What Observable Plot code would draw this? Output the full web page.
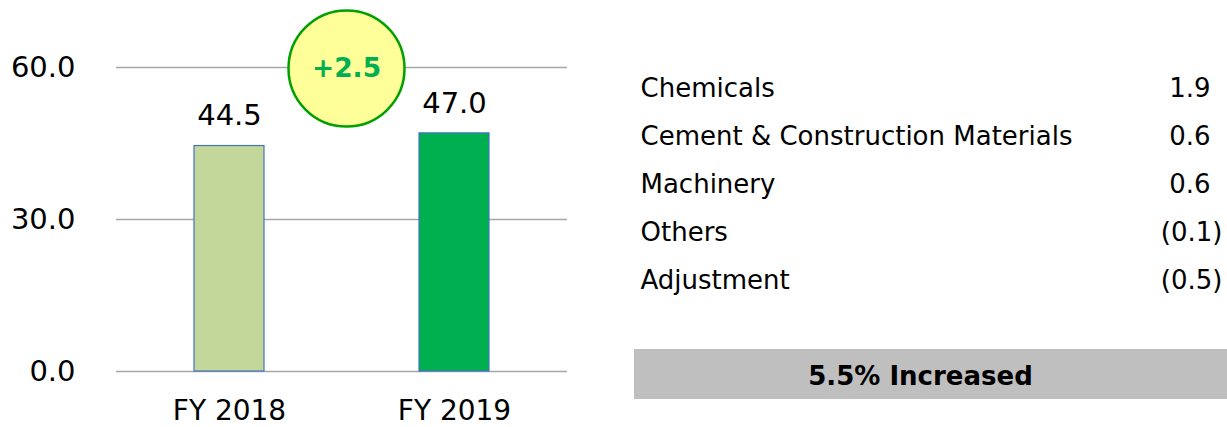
<!DOCTYPE html>
<html><head><meta charset="utf-8">
<script src="https://cdn.jsdelivr.net/npm/d3@7"></script>
<script src="https://cdn.jsdelivr.net/npm/@observablehq/plot@0.6"></script>
<style>
body{margin:0;background:#fff;}
#wrap{display:flex;width:1227px;height:427px;}
#wrap svg{display:block;overflow:visible;}
</style></head><body><div id="wrap"></div>
<script>
const years = ["FY 2018", "FY 2019"];
const profits = [44.5, 47.0];
const barColors = ["#C4D79B", "#00B050"];
const yTicks = [0, 30, 60];
const segments = ["Chemicals", "Cement & Construction Materials", "Machinery", "Others", "Adjustment"];
const changes = [1.9, 0.6, 0.6, -0.1, -0.5];
const summary = "5.5% Increased";
const delta = 2.5;

const font = {fontFamily: "'DejaVu Sans', Verdana, sans-serif", fontSize: "26px", color: "#000", background: "transparent", overflow: "visible"};

const bars = years.map((year, i) => ({year, value: profits[i], color: barColors[i]}));

const left = Plot.plot({
  width: 600, height: 427,
  marginLeft: 116, marginRight: 33, marginTop: 67, marginBottom: 56,
  style: font,
  color: {type: "identity"},
  x: {domain: years, paddingInner: 0.69, paddingOuter: 0.345, label: null},
  y: {domain: [0, 60], label: null},
  marks: [
    Plot.ruleY(yTicks, {stroke: "#A6A6A6", strokeWidth: 1.5}),
    Plot.barY(bars, {x: "year", y: "value", fill: "color", stroke: "#4472C4", strokeWidth: 1.2}),
    Plot.text(bars, {x: "year", y: "value", text: d => d.value.toFixed(1), dy: -30, fontSize: 29, fill: "#000"}),
    Plot.axisY(yTicks, {tickSize: 0, tickPadding: 41, tickFormat: d => d.toFixed(1), fontSize: 29, label: null}),
    Plot.axisX({tickSize: 0, tickPadding: 29, fontSize: 28, label: null}),
    Plot.dot([delta], {x: () => years[0], y: () => 60, dx: 117, dy: 1, r: 58, fill: "#FFFF99", stroke: "#00A000", strokeWidth: 2.5}),
    Plot.text([delta], {x: () => years[0], y: () => 60, dx: 117, dy: 1, text: d => "+" + d.toFixed(1), fontWeight: "bold", fill: "#00B050", fontSize: 26.5})
  ]
});

const rows = segments.map((name, i) => ({name, value: changes[i]}));
const fmt = v => v < 0 ? `(${Math.abs(v).toFixed(1)})` : v.toFixed(1);

const right = Plot.plot({
  width: 627, height: 427, margin: 0,
  style: font,
  x: {domain: [0, 1], range: [40, 622], axis: null},
  y: {type: "band", domain: [...segments, " ", summary], range: [64, 400], padding: 0, axis: null},
  marks: [
    Plot.barX([summary], {x1: () => 0, x2: () => 1, y: d => d, insetLeft: -6, insetRight: -5, insetTop: -3, insetBottom: 1, fill: "#BFBFBF"}),
    Plot.text(rows, {x: () => 0, y: "name", text: "name", textAnchor: "start", fontSize: 26, fill: "#000"}),
    Plot.text(rows.filter(d => d.value >= 0), {x: () => 1, y: "name", text: d => fmt(d.value), textAnchor: "end", dx: -12, fontSize: 26, fill: "#000"}),
    Plot.text(rows.filter(d => d.value < 0), {x: () => 1, y: "name", text: d => fmt(d.value), textAnchor: "end", fontSize: 26, fill: "#000"}),
    Plot.text([summary], {x: () => 0.5, y: d => d, text: d => d, dx: -11, fontWeight: "bold", fontSize: 26, fill: "#000"})
  ]
});

document.getElementById("wrap").append(left, right);
</script></body></html>
